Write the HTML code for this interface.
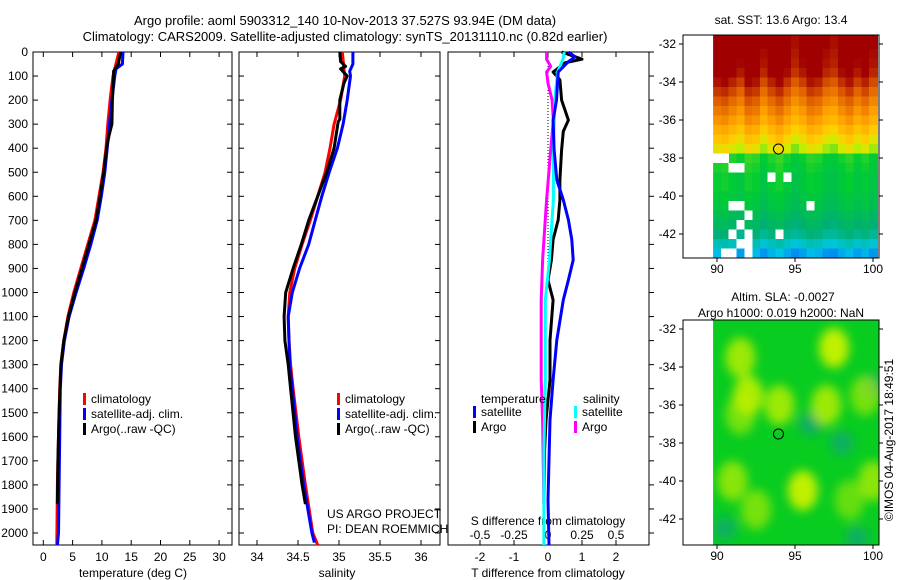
<!DOCTYPE html>
<html><head><meta charset="utf-8"><style>
html,body{margin:0;padding:0;background:#fff;}
svg{display:block;font-family:"Liberation Sans",sans-serif;}
text{font-size:12px;fill:#000;}
</style></head><body>
<svg id="fig" width="900" height="580" viewBox="0 0 900 580" xmlns="http://www.w3.org/2000/svg">
<text x="345" y="25" text-anchor="middle" style="font-size:13px">Argo profile: aoml 5903312_140 10-Nov-2013 37.527S 93.94E (DM data)</text>
<text x="345" y="41" text-anchor="middle" style="font-size:13px">Climatology: CARS2009. Satellite-adjusted climatology: synTS_20131110.nc (0.82d earlier)</text>
<g id="p1"></g>
<g id="p2"></g>
<g id="p3"></g>
<g id="m1"></g>
<g id="m2"></g>
<text x="781" y="24" text-anchor="middle">sat. SST: 13.6 Argo: 13.4</text>
<text x="783" y="301" text-anchor="middle">Altim. SLA: -0.0027</text>
<text x="781" y="317" text-anchor="middle">Argo h1000: 0.019 h2000: NaN</text>
<text transform="translate(893,440) rotate(-90)" text-anchor="middle">©IMOS 04-Aug-2017 18:49:51</text>
<text x="327" y="518">US ARGO PROJECT</text>
<text x="327" y="533">PI: DEAN ROEMMICH</text>
</svg>
<script>
// ---------- data ----------
const tClimD=[0,100,200,300,400,500,600,700,800,900,1000,1100,1200,1300,1400,1600,1800,2050];
const tClimV=[12.9,11.9,11.4,11.0,10.7,10.2,9.5,8.8,7.6,6.4,5.2,4.2,3.5,3.0,2.8,2.6,2.4,2.3];
const tSatD=[0,50,70,100,200,300,400,500,600,700,800,900,1000,1100,1200,1300,1400,1600,1800,2000,2050];
const tSatV=[13.6,13.5,12.4,12.2,11.7,11.3,10.9,10.5,9.9,9.2,8.1,6.9,5.6,4.4,3.6,3.1,2.9,2.8,2.7,2.6,2.4];
const tArgoD=[0,50,80,100,200,300,350,400,500,600,700,800,900,1000,1100,1200,1300,1500,1700,1880];
const tArgoV=[13.2,12.8,12.0,12.0,11.8,11.7,11.2,10.8,10.3,9.7,9.0,7.8,6.6,5.4,4.3,3.5,3.0,2.7,2.5,2.4];
const sClimD=[0,100,200,300,400,500,600,700,800,900,1000,1100,1200,1300,1400,1600,1800,2000,2050];
const sClimV=[35.04,35.07,35.02,34.94,34.89,34.83,34.74,34.65,34.55,34.46,34.40,34.38,34.39,34.41,34.44,34.51,34.59,34.68,34.74];
const sSatD=[0,50,80,100,200,300,400,500,600,700,800,900,1000,1100,1200,1300,1400,1600,1800,2000,2040];
const sSatV=[35.17,35.17,35.13,35.14,35.10,35.05,34.98,34.88,34.79,34.71,34.63,34.52,34.43,34.38,34.39,34.40,34.43,34.49,34.57,34.67,34.70];
const sArgoD=[0,40,60,70,100,130,200,280,290,400,500,600,700,800,900,1000,1100,1200,1300,1400,1600,1800,1880];
const sArgoV=[35.01,35.02,35.08,35.02,35.10,35.06,35.01,35.01,34.99,34.94,34.85,34.74,34.63,34.54,34.44,34.35,34.33,34.34,34.38,34.41,34.47,34.55,34.59];
const dTSatD=[0,20,40,83,200,283,407,532,615,698,780,865,948,1031,1198,1364,1530,1863,2050];
const dTSatV=[0.6,0.8,0.6,0.3,0.25,0.15,0.18,0.26,0.45,0.6,0.7,0.74,0.6,0.45,0.26,0.15,0.06,0.0,0.03];
const dTArgoD=[0,15,30,45,83,116,200,283,330,407,532,615,698,780,865,948,1031,1198,1364,1530,1655,1880];
const dTArgoV=[0.4,0.7,1.0,0.5,0.15,0.35,0.4,0.6,0.45,0.4,0.35,0.35,0.3,0.15,0.1,0.0,0.15,0.06,0.06,-0.06,-0.1,-0.12];
const dSSatD=[0,30,83,200,407,615,865,1031,1364,1655,2050];
const dSSatV=[0.12,0.11,0.07,0.05,0.04,0.04,0.01,-0.02,-0.02,-0.03,-0.03];
const dSArgoD=[0,30,60,83,130,200,283,407,615,865,1031,1198,1364,1530,1880];
const dSArgoV=[-0.01,-0.01,0.02,-0.01,0.0,0.03,0.04,0.02,-0.01,-0.04,-0.05,-0.05,-0.05,-0.04,-0.03];
const depthTicks=[0,100,200,300,400,500,600,700,800,900,1000,1100,1200,1300,1400,1500,1600,1700,1800,1900,2000];
const tTicks=[0,5,10,15,20,25,30];
const sTicks=[34,34.5,35,35.5,36];
const dTTicks=[-2,-1,0,1,2];
const dSTicks=[-0.5,-0.25,0,0.25,0.5];
const dSTickLabels=["-0.5","-0.25","0","0.25","0.5"];
const sstRowLat=[-31.5,-32,-32.5,-33,-33.5,-34,-34.5,-35,-35.5,-36,-36.5,-37,-37.5,-38,-38.5,-39,-39.5,-40,-40.5,-41,-41.5,-42,-42.5,-43];
const sstRowVal=[17.8,17.8,17.7,17.6,17.4,17.0,16.6,16.2,15.8,15.4,14.9,14.4,13.9,12.9,12.8,12.7,12.7,12.6,12.5,12.3,12.1,11.8,11.3,10.8];
const sstColOff=[0.2,0.3,0.1,-0.1,0.3,0.2,-0.2,0.1,0.3,0.0,-0.3,-0.1,0.2,0.1,-0.2,-0.3,0.0,0.2,-0.1,0.1,-0.2];
const sstNaNLon=[90,90.5,91,91.5,91,91.5,92,91.5,92,90.5,91,92,92,91,91.5,93.5,94.5,94,96];
const sstNaNLat=[-38,-38,-38.5,-38.5,-40.5,-40.5,-41,-41.5,-42.5,-43,-43,-43,-42,-42,-42.5,-39,-39,-42,-40.5];
const slaLon=[91.5,92,97.5,94,97,91,95.5,92.5,99.5,98.5,100,91.5];
const slaLat=[-33.5,-35.5,-33,-36,-36,-40,-40.5,-41.5,-35.5,-41,-40,-36.5];
const slaAmp=[0.8,0.9,1.0,0.8,0.8,0.7,1.0,0.6,0.6,0.5,0.7,0.6];
const dipLon=[98,100,90.5,96,99];
const dipLat=[-38,-35,-42.5,-37,-43];

// ---------- helpers ----------
const NS="http://www.w3.org/2000/svg";
function mk(parent,tag,attrs){const e=document.createElementNS(NS,tag);for(const k in attrs)e.setAttribute(k,attrs[k]);parent.appendChild(e);return e;}
const yD=d=>52+0.2405*d;
const xT=t=>43.3+5.86*t;
const xS=s=>257+82*(s-34);
const xDT=v=>548+34*v;
const xDS=v=>548+136*v;
const BOT=545;

function frame(g,x0,x1,name){
  const r=mk(g,'rect',{x:x0,y:52,width:x1-x0,height:BOT-52,fill:'none',stroke:'#000','stroke-width':1});
  
  depthTicks.forEach(d=>{
    const y=yD(d);
    const a=mk(g,'line',{x1:x0,x2:x0+5,y1:y,y2:y,stroke:'#000'});
    
    const b=mk(g,'line',{x1:x1-5,x2:x1,y1:y,y2:y,stroke:'#000'});
    
  });
}
function xticks(g,vals,fx,labels,ly){
  vals.forEach((v,i)=>{
    const x=fx(v);
    const a=mk(g,'line',{x1:x,x2:x,y1:52,y2:57,stroke:'#000'});
    
    const b=mk(g,'line',{x1:x,x2:x,y1:BOT-5,y2:BOT,stroke:'#000'});
    
    const t=mk(g,'text',{x:x,y:ly,'text-anchor':'middle'});t.textContent=labels?labels[i]:String(v);
    
  });
}
function line(g,ds,vs,fx,color,name){
  const pts=ds.map((d,i)=>fx(vs[i]).toFixed(1)+','+yD(d).toFixed(1)).join(' ');
  const p=mk(g,'polyline',{points:pts,fill:'none',stroke:color,'stroke-width':3,'stroke-linejoin':'round'});
  
}
function legend(g,x,y,items){
  items.forEach((it,i)=>{
    const r=mk(g,'rect',{x:x,y:y+i*15-10,width:3,height:12,fill:it[1]});
    
    const t=mk(g,'text',{x:x+8,y:y+i*15});t.textContent=it[0];
    
  });
}

// ---------- panel 1 ----------
const p1=document.getElementById('p1');
frame(p1,33,232,'temperature');
depthTicks.forEach(d=>{const t=mk(p1,'text',{x:28,y:yD(d)+4,'text-anchor':'end'});t.textContent=String(d);
  });
xticks(p1,tTicks,xT,null,561);
{const t=mk(p1,'text',{x:133,y:577,'text-anchor':'middle'});t.textContent='temperature (deg C)';}
line(p1,tClimD,tClimV,xT,'#f00','temp-climatology-line');
line(p1,tSatD,tSatV,xT,'#00f','temp-satellite-line');
line(p1,tArgoD,tArgoV,xT,'#000','temp-argo-line');
legend(p1,83,403,[['climatology','#f00'],['satellite-adj. clim.','#00f'],['Argo(..raw -QC)','#000']]);

// ---------- panel 2 ----------
const p2=document.getElementById('p2');
frame(p2,239,440,'salinity');
xticks(p2,sTicks,xS,null,561);
{const t=mk(p2,'text',{x:337,y:577,'text-anchor':'middle'});t.textContent='salinity';}
line(p2,sClimD,sClimV,xS,'#f00','sal-climatology-line');
line(p2,sSatD,sSatV,xS,'#00f','sal-satellite-line');
line(p2,sArgoD,sArgoV,xS,'#000','sal-argo-line');
legend(p2,337,403,[['climatology','#f00'],['satellite-adj. clim.','#00f'],['Argo(..raw -QC)','#000']]);

// ---------- panel 3 ----------
const p3=document.getElementById('p3');
{const r=mk(p3,'rect',{x:448,y:52,width:201,height:BOT-52,fill:'none',stroke:'#000'});}
depthTicks.forEach(d=>{const y=yD(d);const b=mk(p3,'line',{x1:649,x2:654,y1:y,y2:y,stroke:'#000'});});
xticks(p3,dTTicks,xDT,null,561);
dSTicks.forEach((v,i)=>{const t=mk(p3,'text',{x:xDS(v),y:539,'text-anchor':'middle'});t.textContent=dSTickLabels[i];});
{const t=mk(p3,'text',{x:548,y:525,'text-anchor':'middle'});t.textContent='S difference from climatology';}
{const t=mk(p3,'text',{x:548,y:577,'text-anchor':'middle'});t.textContent='T difference from climatology';}
{const z=mk(p3,'line',{x1:548,x2:548,y1:54,y2:yD(900),stroke:'#000','stroke-dasharray':'1,2'});}
line(p3,dTArgoD,dTArgoV,xDT,'#000','tdiff-argo-line');
line(p3,dSArgoD,dSArgoV,xDS,'#f0f','sdiff-argo-line');
line(p3,dSSatD,dSSatV,xDS,'#0ff','sdiff-satellite-line');
line(p3,dTSatD,dTSatV,xDT,'#00f','tdiff-satellite-line');
{const t=mk(p3,'text',{x:481,y:403});t.textContent='temperature';}
{const t=mk(p3,'text',{x:583,y:403});t.textContent='salinity';}
legend(p3,473,416,[['satellite','#00f'],['Argo','#000']]);
legend(p3,574,416,[['satellite','#0ff'],['Argo','#f0f']]);

// ---------- maps ----------
const stops=[[10,[0,48,255]],[11,[0,200,230]],[12,[0,176,112]],[12.8,[0,204,51]],[13.8,[200,240,0]],[14.5,[255,208,0]],[15.5,[255,160,0]],[16.5,[224,96,0]],[17.5,[160,0,0]]];
function cmap(v){if(v<=stops[0][0])return 'rgb('+stops[0][1]+')';
  for(let i=1;i<stops.length;i++){if(v<=stops[i][0]){const a=stops[i-1],b=stops[i],f=(v-a[0])/(b[0]-a[0]);
    return 'rgb('+a[1].map((c,k)=>Math.round(c+(b[1][k]-c)*f)).join(',')+')';}}
  return 'rgb('+stops[stops.length-1][1]+')';}
function mapAxes(top){
  const xL=o=>717+15.6*(o-90);
  const yL=a=>(top+9)+19*(-32-a);
  return {xL,yL};
}
function mapFrame(g,top,bot,xL,yL,name){
  const r=mk(g,'rect',{x:683,y:top,width:196,height:bot-top,fill:'none',stroke:'#000'});
  
  [-32,-34,-36,-38,-40,-42].forEach(a=>{const y=yL(a);
    const l=mk(g,'line',{x1:679,x2:683,y1:y,y2:y,stroke:'#000'});
    const l2=mk(g,'line',{x1:879,x2:883,y1:y,y2:y,stroke:'#000'});
    const t=mk(g,'text',{x:676,y:y+4,'text-anchor':'end'});t.textContent=String(a);});
  [90,95,100].forEach(o=>{const x=xL(o);
    const l=mk(g,'line',{x1:x,x2:x,y1:bot,y2:bot+4,stroke:'#000'});
    const t=mk(g,'text',{x:x,y:bot+15,'text-anchor':'middle'});t.textContent=String(o);});
  const c=mk(g,'circle',{cx:xL(93.94),cy:yL(-37.527),r:5,fill:'none',stroke:'#000'});
  
}
// SST
const m1=document.getElementById('m1');
{const top=35,bot=258;const {xL,yL}=mapAxes(top);
  const cells=mk(m1,'g',{'shape-rendering':'crispEdges'});
  sstRowLat.forEach((la,i)=>{sstColOff.forEach((off,j)=>{
    const lo=90+0.5*j;const y0=Math.max(top,yL(la+0.25));const y1=Math.min(bot,yL(la-0.25)+1);
    const x0=xL(lo-0.25);const x1=Math.min(879,xL(lo+0.25)+1);
    const r=mk(cells,'rect',{x:x0,y:y0,width:Math.max(0,x1-x0),height:Math.max(0,y1-y0),fill:cmap(sstRowVal[i]+off*(i<13?1.5:0.6))});
    });});
  sstNaNLon.forEach((lo,i)=>{const r=mk(cells,'rect',{x:xL(lo-0.25),y:yL(sstNaNLat[i]+0.25),width:8,height:9.5,fill:'#fff'});
    });
  const w=mk(m1,'rect',{x:683,y:top,width:xL(89.75)-683,height:bot-top,fill:'#fff'});
  mapFrame(m1,top,bot,xL,yL,'sst-map');}
// SLA
const m2=document.getElementById('m2');
{const top=320,bot=545;const {xL,yL}=mapAxes(top);
  const defs=mk(m2,'defs',{});const f=mk(defs,'filter',{id:'blur',x:'-50%',y:'-50%',width:'200%',height:'200%'});mk(f,'feGaussianBlur',{stdDeviation:5});
  const cp=mk(defs,'clipPath',{id:'slaclip'});mk(cp,'rect',{x:xL(89.75),y:top,width:879-xL(89.75),height:bot-top});
  const bg=mk(m2,'rect',{x:xL(89.75),y:top,width:879-xL(89.75),height:bot-top,fill:'#08cc20'});
  const gg=mk(m2,'g',{'clip-path':'url(#slaclip)',filter:'url(#blur)'});
  dipLon.forEach((lo,i)=>{const e=mk(gg,'ellipse',{cx:xL(lo),cy:yL(dipLat[i]),rx:12,ry:12,fill:'#10b060'});});
  slaLon.forEach((lo,i)=>{const e=mk(gg,'ellipse',{cx:xL(lo),cy:yL(slaLat[i]),rx:15,ry:20,fill:'#c0f000','fill-opacity':slaAmp[i]});});
  mapFrame(m2,top,bot,xL,yL,'sla-map');}
</script>
</body></html>
